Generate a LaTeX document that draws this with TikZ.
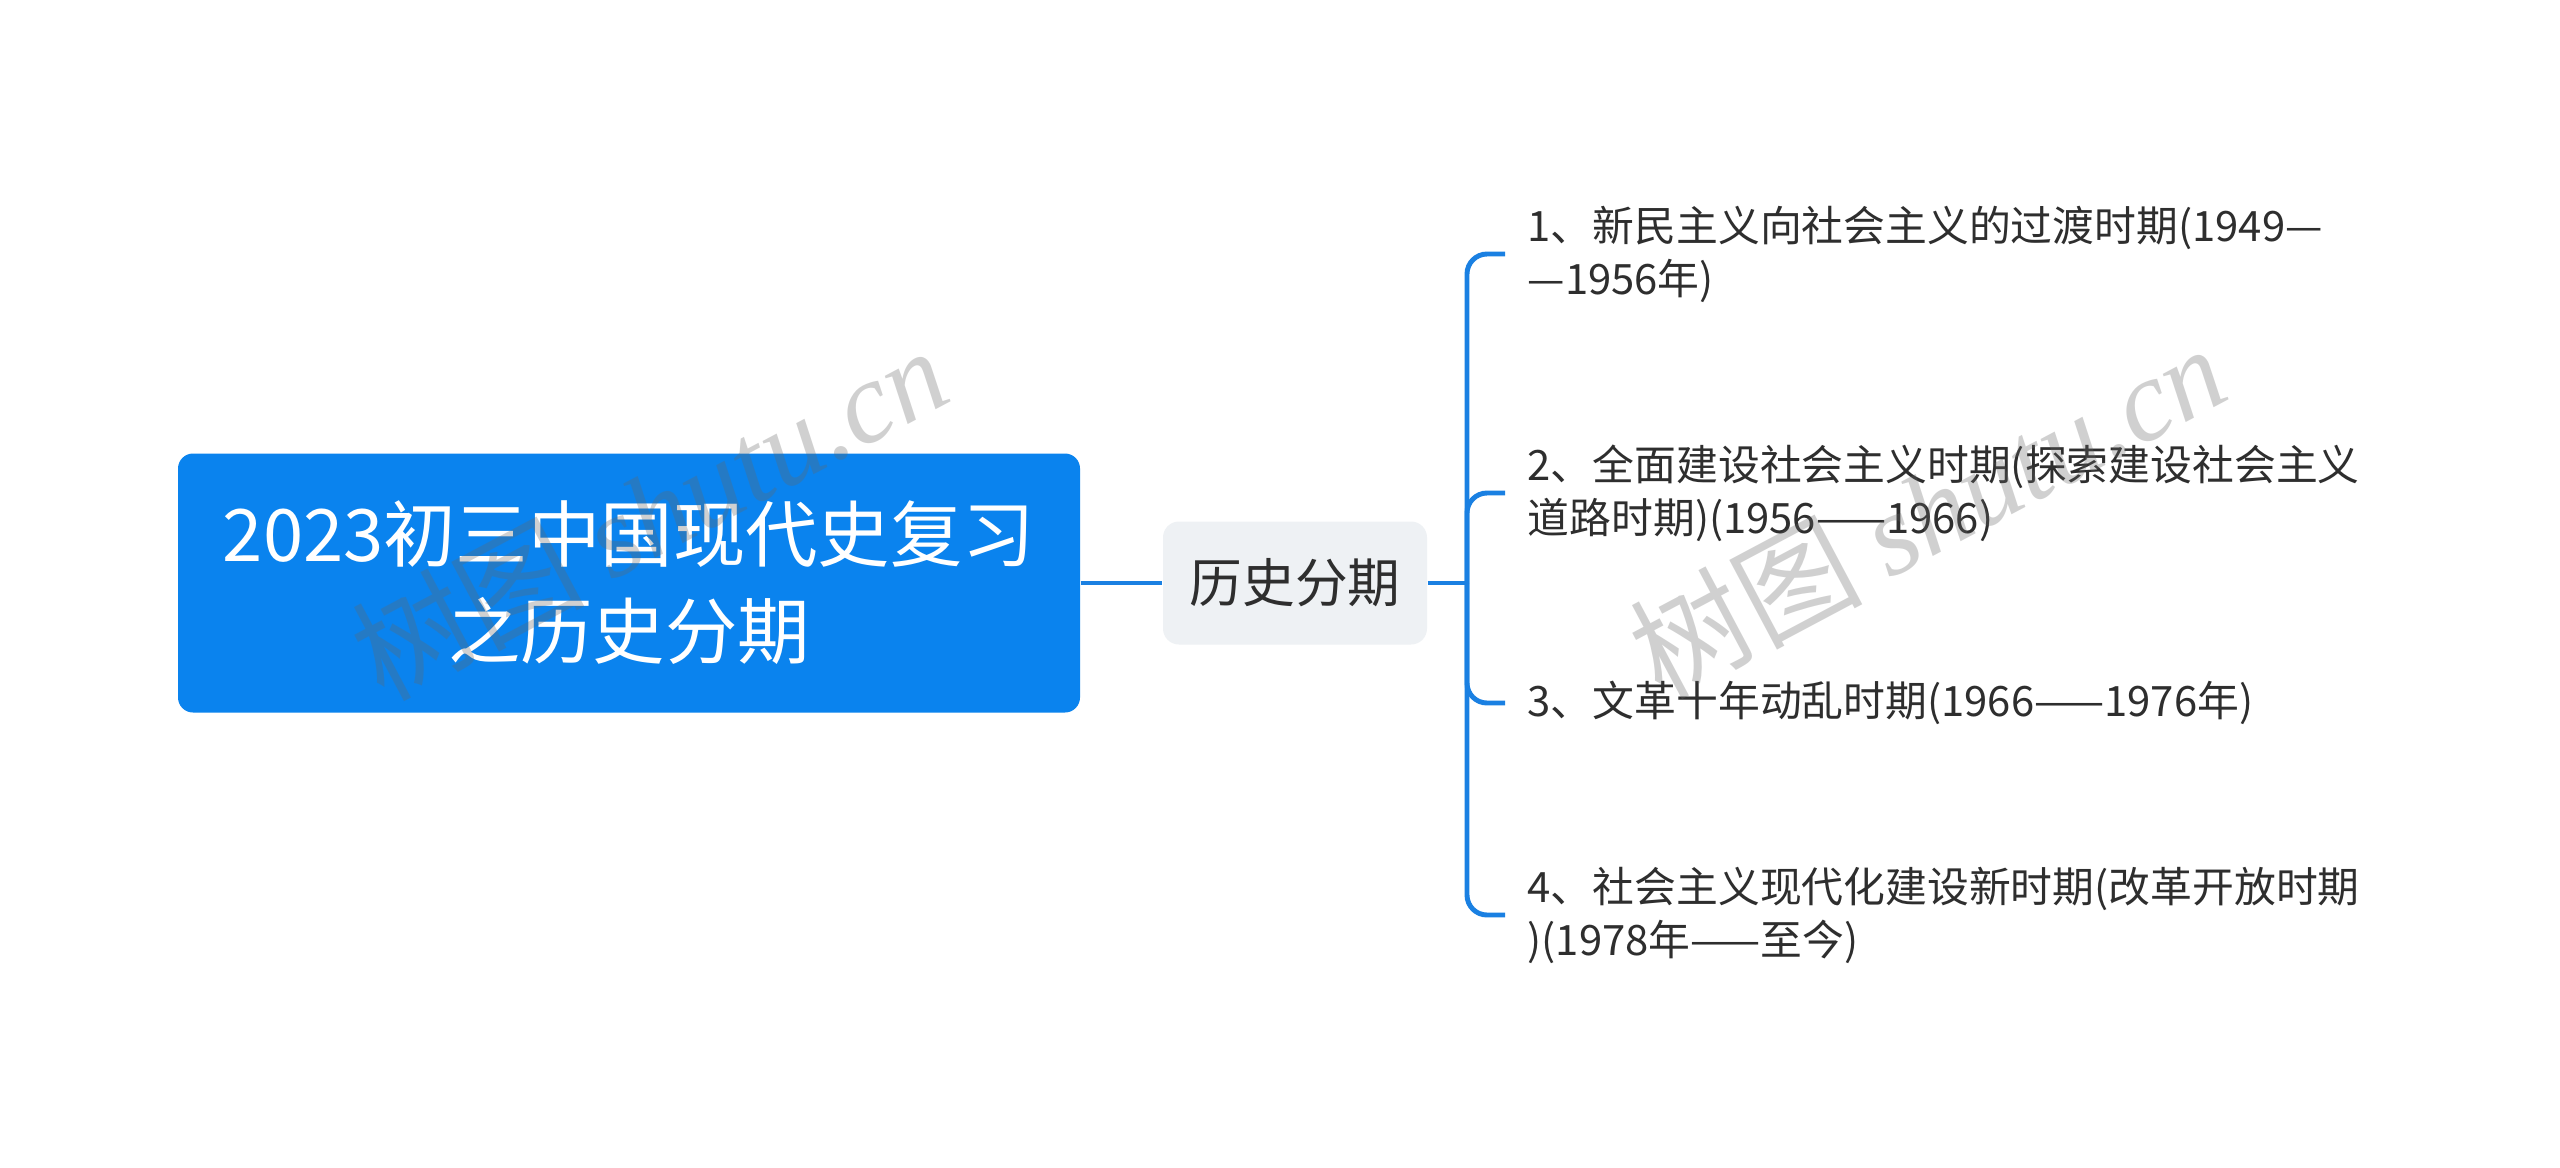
\documentclass[tikz,border=0pt]{standalone}
\usepackage{fontspec}
\setmainfont{Noto Sans CJK SC}
\newfontfamily\cjkfont{Noto Sans CJK SC}
\newfontfamily\wmfont{Liberation Serif}
\definecolor{rootblue}{HTML}{0A83EE}
\definecolor{linkblue}{HTML}{1A80E2}
\definecolor{midgray}{HTML}{EEF1F4}
\definecolor{txt}{HTML}{2E2E2E}
\tikzset{
  rootbox/.style={fill=rootblue, draw=none, rounded corners=1.5mm, minimum width=90.2mm, minimum height=25.9mm, align=center, text=white, inner sep=0pt,
    font=\fontsize{20.6pt}{27.6pt}\selectfont},
  midbox/.style={fill=midgray, draw=none, rounded corners=1.6mm, minimum width=26.4mm, minimum height=12.3mm, text=txt, inner sep=0pt,
    font=\fontsize{15pt}{18pt}\selectfont},
  leaf/.style={anchor=west, align=left, inner sep=0pt, text=txt, font=\fontsize{11.9pt}{15.1pt}\selectfont},
  conn/.style={draw=linkblue, line width=1.4pt},
  branch/.style={conn, rounded corners=2mm},
  wm/.style={text=black!60, text opacity=0.3, inner sep=0pt, rotate=28, font=\fontsize{33pt}{36pt}\selectfont}
}
\begin{document}
\begin{tikzpicture}[x=0.1mm,y=-0.1mm]
\useasboundingbox (0,0) rectangle (2560,1167);
\fill[white] (0,0) rectangle (2560,1167);

\node[rootbox] (root) at (629,583) {2023初三中国现代史复习\\之历史分期};
\node[midbox] (mid) at (1295,583) {历史分期};

\node[leaf] (l1) at (1527,254) {1、新民主义向社会主义的过渡时期(1949—\\—1956年)};
\node[leaf] (l2) at (1527,493) {2、全面建设社会主义时期(探索建设社会主义\\道路时期)(1956——1966)};
\node[leaf] (l3) at (1527,703) {3、文革十年动乱时期(1966——1976年)};
\node[leaf] (l4) at (1527,915) {4、社会主义现代化建设新时期(改革开放时期\\)(1978年——至今)};

\coordinate (bx) at (1467,583);
\coordinate (e1) at ([xshift=-2.2mm]l1.west);
\coordinate (e2) at ([xshift=-2.2mm]l2.west);
\coordinate (e3) at ([xshift=-2.2mm]l3.west);
\coordinate (e4) at ([xshift=-2.2mm]l4.west);

\draw[conn] (root.east) -- (mid.west);
\draw[conn] (mid.east) -- (bx);
\draw[branch] (bx) |- (e1);
\draw[branch] (bx) |- (e2);
\draw[branch] (bx) |- (e3);
\draw[branch] (bx) |- (e4);

\node[wm] (wm1) at (649,512) {\cjkfont 树图 \wmfont\itshape shutu.cn};
\node[wm] (wm2) at (1927,510) {\cjkfont 树图 \wmfont\itshape shutu.cn};
\end{tikzpicture}
\end{document}
